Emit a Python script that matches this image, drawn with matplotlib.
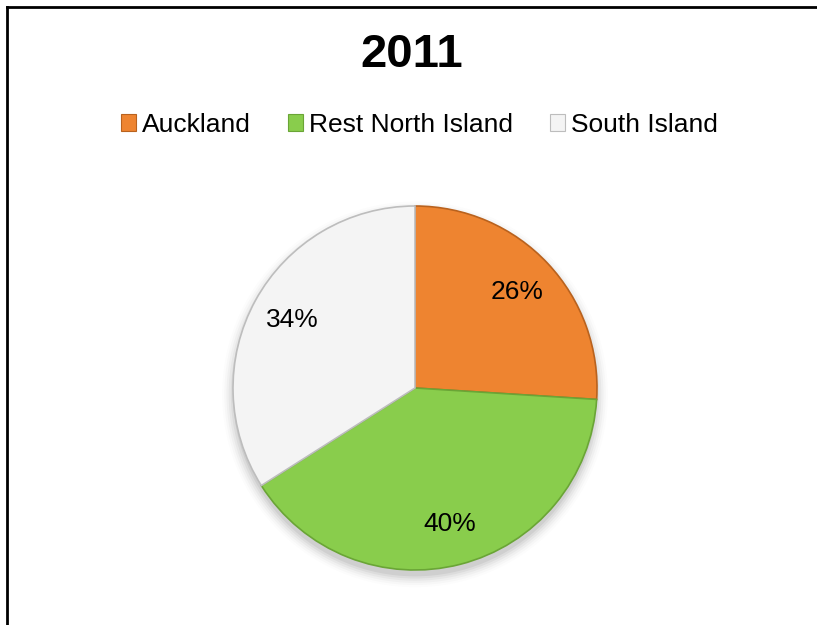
import numpy as np
import matplotlib.pyplot as plt
from matplotlib.lines import Line2D
from matplotlib.patches import Patch, Circle

plt.rcParams['font.family'] = ['Liberation Sans', 'DejaVu Sans']

title = "2011"
regions = ["Auckland", "Rest North Island", "South Island"]
shares = [26, 40, 34]
fill_colors = ["#EE8430", "#89CD4C", "#F4F4F4"]
edge_colors = ["#B9621E", "#6AA536", "#BDBDBD"]

W, H = 817, 625
fig = plt.figure(figsize=(W / 100, H / 100), dpi=100)

# pie centre and radius in pixels
cx, cy, r = 415, 388, 182
ax = fig.add_axes([(cx - r) / W, (H - cy - r) / H, 2 * r / W, 2 * r / H])

# soft shadow under the pie
for i, a in enumerate(np.linspace(0.05, 0.012, 6)):
    ax.add_patch(Circle((0, -0.035), 1.0 + 0.012 * i, color="black", alpha=a,
                        lw=0, zorder=0, clip_on=False))

wedges, texts, autotexts = ax.pie(
    shares, colors=fill_colors, startangle=90, counterclock=False,
    autopct="%1.0f%%", pctdistance=0.77,
    wedgeprops=dict(linewidth=1.2),
    textprops=dict(fontsize=19, color="black"),
)
for w, ec in zip(wedges, edge_colors):
    w.set_edgecolor(ec)
    w.set_zorder(2)
for t in autotexts:
    t.set_zorder(3)

ax.set_xlim(-1, 1)
ax.set_ylim(-1, 1)
ax.set_aspect("equal")
ax.axis("off")

fig.text(0.504, 1 - 55 / H, title, ha="center", va="center",
         fontsize=34, fontweight="bold")

handles = [Patch(facecolor=c, edgecolor=e, linewidth=0.8)
           for c, e in zip(fill_colors, edge_colors)]
fig.legend(handles, regions, loc="center", bbox_to_anchor=(0.513, 1 - 125 / H),
           ncol=3, frameon=False, fontsize=19, handlelength=0.6,
           handleheight=0.6, handletextpad=0.2, columnspacing=1.4)

# chart border (left and top visible)
fig.add_artist(Line2D([7 / W, 7 / W], [0, 1 - 7 / H], color="black", lw=2,
                      transform=fig.transFigure))
fig.add_artist(Line2D([7 / W, 1], [1 - 7 / H, 1 - 7 / H], color="black", lw=2,
                      transform=fig.transFigure))

fig.savefig("out.png", dpi=100)
